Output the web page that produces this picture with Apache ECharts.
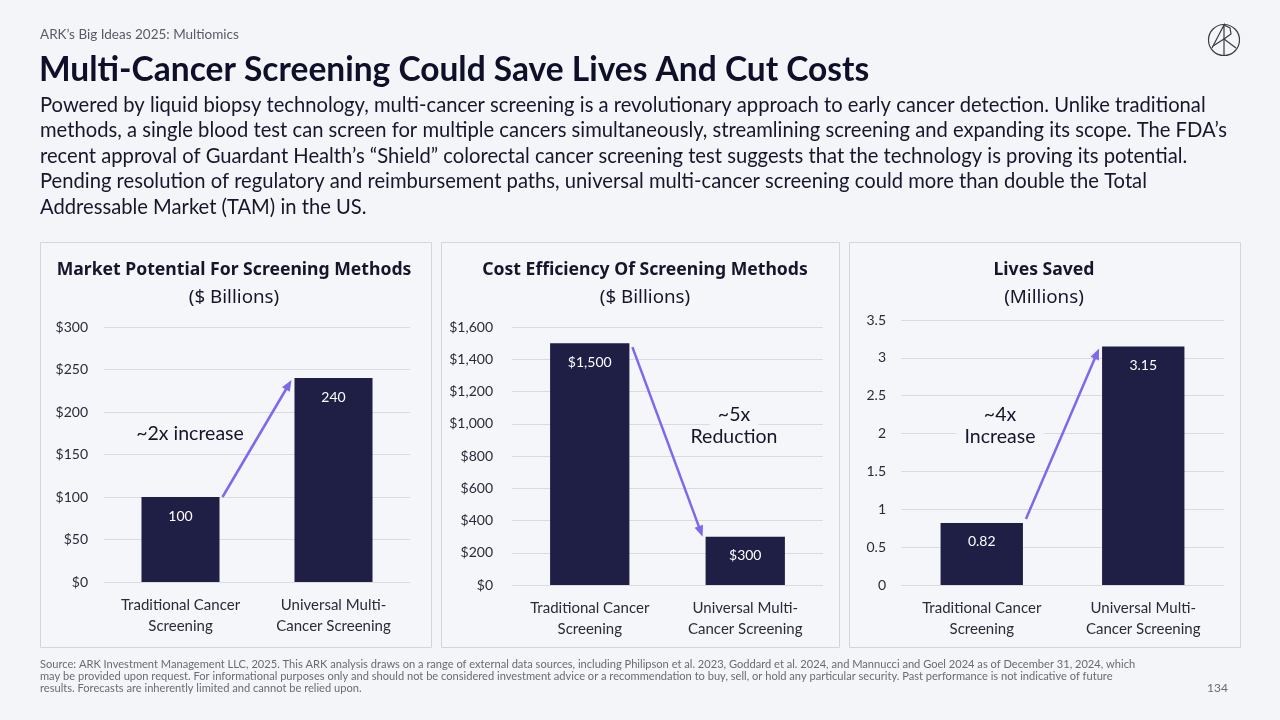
<!DOCTYPE html>
<html>
<head>
<meta charset="utf-8">
<script src="https://cdn.jsdelivr.net/npm/echarts@6/dist/echarts.min.js"></script>
<style>
  html, body { margin: 0; padding: 0; background: #f4f5f8; }
  #c { width: 1280px; height: 720px; }
</style>
</head>
<body>
<div id="c"></div>
<script>
// ---- data ----
const categories = ['Traditional Cancer\nScreening', 'Universal Multi-\nCancer Screening'];
const marketValues = [100, 240];
const costValues = [1500, 300];
const livesValues = [0.82, 3.15];
const marketAxis = { min: 0, max: 300, interval: 50 };
const costAxis = { min: 0, max: 1600, interval: 200 };
const livesAxis = { min: 0, max: 3.5, interval: 0.5 };
const panelTitles = ['Market Potential For Screening Methods', 'Cost Efficiency Of Screening Methods', 'Lives Saved'];
const panelUnits = ['($ Billions)', '($ Billions)', '(Millions)'];

const FONT = 'Lato, "Noto Sans", sans-serif';
const FONT2 = '"Noto Sans", Lato, sans-serif';
const BAR = '#1f1e45';
const PURPLE = '#7d68ee';
const BG = '#f4f5f8';
const PANEL = '#f5f6f9';
const GRIDC = '#d9dbe0';

const fmtDollar = v => '$' + v.toLocaleString('en-US');

const chart = echarts.init(document.getElementById('c'), null, { renderer: 'canvas' });

const grids = [
  { left: 104, right: 870, top: 327, bottom: 138 },
  { left: 512, right: 457, top: 327, bottom: 135 },
  { left: 901, right: 56, top: 320, bottom: 135 }
];

function xAxis(i) {
  return {
    type: 'category', gridIndex: i, data: categories,
    axisLine: { show: false }, axisTick: { show: false },
    axisLabel: { color: '#2a2a3a', fontSize: 15, fontFamily: FONT, lineHeight: 21, margin: 13, interval: 0 }
  };
}
function yAxis(i, ax, fmt, margin) {
  return {
    type: 'value', gridIndex: i, min: ax.min, max: ax.max, interval: ax.interval,
    axisLine: { show: false }, axisTick: { show: false },
    splitLine: { lineStyle: { color: GRIDC, width: 1 } },
    axisLabel: { color: '#2a2a3a', fontSize: 14, fontFamily: FONT, margin: margin, formatter: fmt }
  };
}
function barSeries(i, data, fmt) {
  return {
    type: 'bar', xAxisIndex: i, yAxisIndex: i, data: data, barWidth: '51%',
    itemStyle: { color: BAR },
    label: { show: true, position: 'insideTop', distance: 12, color: '#ffffff', fontSize: 14, fontFamily: FONT, formatter: p => fmt(p.value) },
    silent: true
  };
}

const panels = [
  { x: 40, y: 242, w: 391, h: 405, cx: 234 },
  { x: 441, y: 242, w: 398, h: 405, cx: 645 },
  { x: 849, y: 242, w: 391, h: 405, cx: 1044 }
];

const staticGraphics = [];
panels.forEach((p, i) => {
  staticGraphics.push({ type: 'rect', z: -10, shape: { x: p.x + 0.5, y: p.y + 0.5, width: p.w, height: p.h }, style: { fill: PANEL, stroke: '#d3d5da', lineWidth: 1 } });
  staticGraphics.push({ type: 'text', x: p.cx, y: 270, style: { text: panelTitles[i], font: 'bold 17.6px ' + FONT2, fill: '#15152b', align: 'center', verticalAlign: 'middle' } });
  staticGraphics.push({ type: 'text', x: p.cx, y: 298, style: { text: panelUnits[i], font: '18.8px ' + FONT2, fill: '#15152b', align: 'center', verticalAlign: 'middle' } });
});

// header
staticGraphics.push({ type: 'text', x: 40, y: 35, style: { text: 'ARK\u2019s Big Ideas 2025: Multiomics', font: '13.5px ' + FONT, fill: '#5a5a66', verticalAlign: 'middle' } });
staticGraphics.push({ type: 'text', x: 39, y: 70, style: { text: 'Multi-Cancer Screening Could Save Lives And Cut Costs', font: 'bold 33.5px ' + FONT, fill: '#0f0f2a', verticalAlign: 'middle' } });
const paraLines = [
  'Powered by liquid biopsy technology, multi-cancer screening is a revolutionary approach to early cancer detection. Unlike traditional',
  'methods, a single blood test can screen for multiple cancers simultaneously, streamlining screening and expanding its scope. The FDA\u2019s',
  'recent approval of Guardant Health\u2019s \u201cShield\u201d colorectal cancer screening test suggests that the technology is proving its potential.',
  'Pending resolution of regulatory and reimbursement paths, universal multi-cancer screening could more than double the Total',
  'Addressable Market (TAM) in the US.'
];
paraLines.forEach((t, i) => {
  staticGraphics.push({ type: 'text', x: 40, y: 105 + i * 25.5, style: { text: t, font: '20.2px ' + FONT, fill: '#16162c', verticalAlign: 'middle' } });
});
// footnote
const footLines = [
  'Source: ARK Investment Management LLC, 2025. This ARK analysis draws on a range of external data sources, including Philipson et al. 2023, Goddard et al. 2024, and Mannucci and Goel 2024 as of December 31, 2024, which',
  'may be provided upon request. For informational purposes only and should not be considered investment advice or a recommendation to buy, sell, or hold any particular security. Past performance is not indicative of future',
  'results. Forecasts are inherently limited and cannot be relied upon.'
];
footLines.forEach((t, i) => {
  staticGraphics.push({ type: 'text', x: 40, y: 664 + i * 12, style: { text: t, font: '11.1px ' + FONT, fill: '#6a6a74', verticalAlign: 'middle' } });
});
staticGraphics.push({ type: 'text', x: 1228, y: 688, style: { text: '134', font: '12px ' + FONT, fill: '#6a6a74', align: 'right', verticalAlign: 'middle' } });
// logo
staticGraphics.push({ type: 'circle', shape: { cx: 1224, cy: 40, r: 15.5 }, style: { fill: 'none', stroke: '#3a3a44', lineWidth: 1.2 } });
staticGraphics.push({ type: 'polyline', shape: { points: [[1212, 48], [1224, 25], [1224, 55.5]] }, style: { fill: 'none', stroke: '#3a3a44', lineWidth: 1.2 } });
staticGraphics.push({ type: 'polyline', shape: { points: [[1224, 25], [1230, 28], [1231, 34], [1224, 39]] }, style: { fill: 'none', stroke: '#3a3a44', lineWidth: 1.2 } });
staticGraphics.push({ type: 'polyline', shape: { points: [[1213, 46], [1224, 39], [1236, 48]] }, style: { fill: 'none', stroke: '#3a3a44', lineWidth: 1.2 } });

chart.setOption({
  animation: false,
  backgroundColor: BG,
  grid: grids,
  xAxis: [xAxis(0), xAxis(1), xAxis(2)],
  yAxis: [
    yAxis(0, marketAxis, v => '$' + v, 16),
    yAxis(1, costAxis, fmtDollar, 19),
    yAxis(2, livesAxis, v => String(v), 15)
  ],
  series: [
    barSeries(0, marketValues, v => String(v)),
    barSeries(1, costValues, fmtDollar),
    barSeries(2, livesValues, v => String(v))
  ],
  graphic: staticGraphics
});

// arrows computed from data through the axes
function arrowGraphics(gi, vals, dy0, dy1) {
  const p0 = chart.convertToPixel({ gridIndex: gi }, [0, vals[0]]);
  const p1 = chart.convertToPixel({ gridIndex: gi }, [1, vals[1]]);
  const band = p1[0] - p0[0];
  const half = band * 0.255;
  const s = [p0[0] + half + 3, p0[1] + dy0];
  const e = [p1[0] - half - 3, p1[1] + dy1];
  const dx = e[0] - s[0], dy = e[1] - s[1];
  const len = Math.sqrt(dx * dx + dy * dy);
  const ux = dx / len, uy = dy / len;
  const hl = 11, hw = 4.5;
  const b = [e[0] - ux * hl, e[1] - uy * hl];
  return [
    { type: 'line', z: 50, shape: { x1: s[0], y1: s[1], x2: b[0] + ux * 2, y2: b[1] + uy * 2 }, style: { stroke: PURPLE, lineWidth: 2.5 } },
    { type: 'polygon', z: 50, shape: { points: [e, [b[0] - uy * hw, b[1] + ux * hw], [b[0] + uy * hw, b[1] - ux * hw]] }, style: { fill: PURPLE } }
  ];
}
function note(x, y, t) {
  return { type: 'text', z: 60, x: x, y: y, style: { text: t, font: '19.5px ' + FONT, fill: '#15152b', align: 'center', verticalAlign: 'middle', backgroundColor: PANEL, padding: [1, 8] } };
}
const dyn = [].concat(
  arrowGraphics(0, marketValues, 0, 2),
  arrowGraphics(1, costValues, 4, 0),
  arrowGraphics(2, livesValues, -4, 2)
);
dyn.push(note(190, 434, '~2x increase'));
dyn.push(note(734, 415, '~5x'));
dyn.push(note(734, 437, 'Reduction'));
dyn.push(note(1000, 415, '~4x'));
dyn.push(note(1000, 437, 'Increase'));

chart.setOption({ graphic: staticGraphics.concat(dyn) });
</script>
</body>
</html>
